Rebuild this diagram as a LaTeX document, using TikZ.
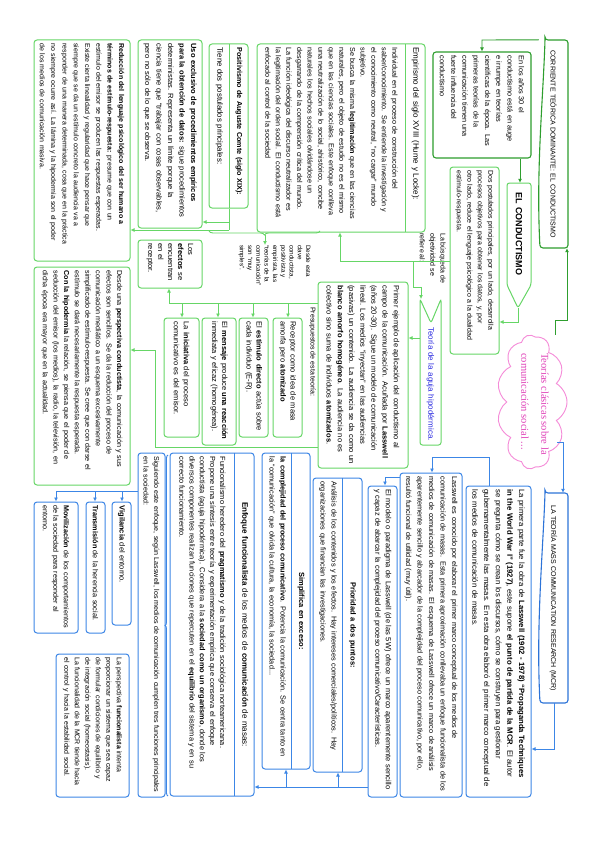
\documentclass[tikz,border=0pt]{standalone}
\usepackage{fontspec}
\setmainfont{Liberation Sans}
\newfontfamily\cloudfont{Liberation Serif}
\usetikzlibrary{arrows.meta,shapes.symbols,decorations.pathreplacing}
\definecolor{gl}{HTML}{66D666}
\definecolor{gd}{HTML}{2E9E2E}
\definecolor{bl}{HTML}{3C86E6}
\definecolor{bd}{HTML}{2D74D8}
\definecolor{pk}{HTML}{F58BD8}
\definecolor{mg}{HTML}{E040B8}
\definecolor{ag}{HTML}{2B2BE0}
\newcommand\fsz[2]{\fontsize{#1}{#2}\selectfont}
% name, style, x1, y1, x2, y2, text  (page pixel coordinates, y downwards)
\newcommand\mkbox[7]{%
  \pgfmathsetmacro\mbcx{(#3+#5)/2}%
  \pgfmathsetmacro\mbcy{(#4+#6)/2}%
  \pgfmathsetmacro\mbw{#6-#4}%
  \pgfmathsetmacro\mbh{#5-#3}%
  \pgfmathsetmacro\mbt{#6-#4-7}%
  \node[#2, minimum width=\mbw pt, minimum height=\mbh pt, text width=\mbt pt] (#1) at (\mbcx,\mbcy) {#7};}
\tikzset{
  base/.style={rotate=-90, inner xsep=3pt, inner ysep=2pt, align=left, font=\fsz{7.5}{11}},
  gbox/.style={base, draw=gl, line width=1pt, rounded corners=3pt},
  dbox/.style={base, draw=gd, line width=1.1pt, rounded corners=3pt},
  bbox/.style={base, draw=bl, line width=1pt, rounded corners=3pt},
  plain/.style={base, draw=none},
  hdr/.style={base, draw=none, align=center},
  lbl/.style={rotate=-90, inner sep=0pt, align=left, font=\fsz{7}{10.4}},
  garr/.style={draw=gl, line width=0.9pt, -{Latex[length=4pt,width=4pt]}},
  gline/.style={draw=gl, line width=0.9pt},
  darr/.style={draw=gd, line width=0.9pt, -{Latex[length=4pt,width=4pt]}},
  barr/.style={draw=bl, line width=0.9pt, -{Latex[length=4pt,width=4pt]}},
  bline/.style={draw=bl, line width=0.9pt},
}
\begin{document}
\begin{tikzpicture}[x=1pt,y=-1pt]
\fill[white] (0,0) rectangle (599,848);
\useasboundingbox (0,0) rectangle (599,848);

%================ GREEN PART =================
\mkbox{ban1}{hdr, font=\fsz{7}{8}}{539}{40}{568}{248}{CORRIENTE TEÓRICA DOMINANTE: EL CONDUCTISMO}
\draw[gd, line width=1.1pt, rounded corners=3pt] (545,40) -- (568,40) -- (568,248) -- (540,248) .. controls (536,170) and (543,100) .. (545,40) -- cycle;

\mkbox{a30}{dbox, font=\fsz{7.3}{11.3}}{433}{52}{531}{158}{En los años 30 el\\conductismo está en auge\\e irrumpe en teorías\\científicas de la época. Las\\primeras teorías de la\\comunicación tienen una\\fuerte influencia del\\conductismo}

\mkbox{cond}{hdr, font=\bfseries\fsz{9}{10}}{507}{183}{531}{285}{EL CONDUCTISMO}
\draw[gl, line width=1pt, rounded corners=2.5pt] (518,308) -- (507,285) -- (507,183) -- (531,183) -- (531,285) -- cycle;
\coordinate (condtip) at (518,308);

\mkbox{dos}{gbox, font=\fsz{7}{10.5}}{450}{167}{499}{354}{Dos postulados principales, por un lado, desarrolla\\procesos objetivos para obtener los datos, y, por\\otro lado, reduce el lenguaje psicológico a la dualidad\\estímulo-respuesta.}

\mkbox{empi}{gbox}{257}{44}{425}{232}{}
\mkbox{empih}{plain, font=\fsz{8}{9}}{406}{44}{425}{232}{Empirismo del siglo XVIII (Hume y Locke):}
\draw[gl, line width=1pt] (empih.south west) -- (empih.south east);
\mkbox{empic}{plain, font=\fsz{7.2}{10.6}}{257}{44}{406}{232}{Individual en el proceso de construcción del\\saber/conocimiento. Se entiende la investigación y\\el conocimiento como neutral, “no cargar” mundo\\subjetivo.\\Se busca la misma \textbf{legitimación} que en las ciencias\\naturales, pero el objeto de estudio no es el mismo\\que en las ciencias sociales. Este enfoque conlleva\\una neutralización de lo social, ahistórico, concibe\\naturales los hechos sociales olvidándose un\\desgarrando de la comprensión crítica del mundo.\\La función ideológica del discurso neutralizador es\\la legitimación del orden social. El conductismo está\\enfocado al control de la sociedad}

\mkbox{posi}{gbox}{209}{44}{248}{208}{}
\mkbox{posih}{plain, font=\bfseries\fsz{7.2}{9}}{230}{44}{248}{208}{Positivismo de Auguste Comte (siglo XIX):}
\draw[gl, line width=1pt] (posih.south west) -- (posih.south east);
\mkbox{posic}{plain, font=\fsz{7.8}{9}}{209}{44}{230}{208}{Tiene dos postulados principales:}

\mkbox{uso}{gbox, font=\fsz{7.5}{11.5}}{138}{40}{202}{228}{\textbf{Uso exclusivo de procedimientos empíricos}\\\textbf{para la obtención de datos:} sigue procedimientos\\deterministas. Representa un límite porque la\\ciencia tiene que “trabajar con cosas observables,\\pero no sólo de lo que se observa.}

\mkbox{red}{gbox, font=\fsz{7}{11.3}}{34}{40}{130}{261}{\textbf{Reducción del lenguaje psicológico del ser humano a}\\\textbf{términos de estímulo-respuesta:} presume que con un\\estímulo del emisor se producen las respuestas esperadas.\\Existe cierta linealidad y regularidad que hace pensar que\\siempre que se da un estímulo concreto la audiencia va a\\responder de una manera determinada, cosa que en la práctica\\no siempre ocurre así. La lámina y la hipodermia son el poder\\de los medios de comunicación masiva.}

\node[lbl, anchor=north west, font=\fsz{6.3}{8.3}] (desc) at (311,245) {Desde esta\\clave\\conductista,\\positivista y\\empirista, las\\“teorías de la\\comunicación”\\son “muy\\simples”.};
\draw[gl, line width=0.9pt, decorate, decoration={brace, amplitude=4pt}] (320,231) -- (209,231);
\coordinate (bracetip) at (265,235);
\draw[garr] (bracetip) -- (desc.west -| 265,0);

\mkbox{efec}{gbox, font=\fsz{7.5}{10}}{138}{240}{202}{288}{Los\\\textbf{efectos} se\\encuentran\\en el\\receptor.}

\mkbox{desde1}{gbox, font=\fsz{7.2}{10.6}}{34}{267}{130}{485}{Desde una \textbf{perspectiva conductista}, la comunicación y sus\\efectos son sencillos. Se da la reducción del proceso de\\comunicación mediático a un esquema excesivamente\\simplificado de estímulo-respuesta. Se cree que con darse el\\estímulo se dará necesariamente la respuesta esperada.\\\textbf{Con la hipodermia} la relación, se piensa que el poder de\\seducción del emisor (los medios), la radio, la televisión, en\\dicha época era mayor que en la actualidad.}

\mkbox{ba}{gbox, font=\fsz{7.5}{10}}{164}{318}{199}{437}{La \textbf{iniciativa} del proceso\\comunicativo es del emisor.}
\mkbox{bb}{gbox, font=\fsz{7.5}{10}}{202}{318}{236}{445}{El \textbf{mensaje} produce \textbf{una reacción}\\inmediata y eficaz (homogénea).}
\mkbox{bc}{gbox, font=\fsz{7.5}{10}}{239}{318}{268}{437}{El \textbf{estímulo directo} actúa sobre\\cada individuo (E-R).}
\mkbox{bd}{gbox, font=\fsz{7.5}{10}}{273}{318}{302}{437}{Receptor como idea de masa\\amorfa pero \textbf{atomizado}}

\node[lbl, anchor=north west] (presu) at (316,307) {Presupuestos de esta teoría:};

\mkbox{prim}{gbox, font=\fsz{7.5}{11.2}}{318}{282}{408}{468}{Primer ejemplo de aplicación del conductismo al\\campo de la comunicación. Acuñada por \textbf{Lasswell}\\(años 20-30). Sigue un modelo de comunicación\\lineal. Los medios “inyectan” en las audiencias\\(pasivas) un contenido. La audiencia se da como un\\\textbf{blanco amorfo homogéneo}. La audiencia no es\\colectivo sino suma de individuos \textbf{atomizados}.}

\mkbox{aguja}{hdr, text=ag, font=\fsz{8}{9}}{420}{323}{441}{445}{Teoría de la aguja hipodérmica.}
\draw[gl, line width=1pt, rounded corners=2.5pt] (420,445) -- (420,299) -- (431,323) -- (441,299) -- (441,445) -- cycle;
\coordinate (agtop) at (421,299);

\node[lbl, anchor=north west] (busq) at (446,233) {La búsqueda de\\objetividad se\\refiere al:};

% cloud
\node[cloud, cloud puffs=11, cloud puff arc=120, aspect=1.9, draw=pk, line width=0.9pt, rotate=-90, minimum width=134pt, minimum height=70pt, inner sep=0pt] (cloud) at (532,402) {};
\node[rotate=-90, text=mg, align=left, font=\cloudfont\fsz{10.5}{20}] (cloudt) at (535,404) {Teorías clásicas sobre la\\comunicación social ...};

% green connectors
\draw[darr] (ban1.south west) -- (482,40) -- (a30.west -| 482,0);
\draw[darr] (a30.east -| 520,0) -- (cond.west -| 520,0);
\draw[darr] (cloud.west -| 555,0) -- (555,320) -- (567,320) -- (ban1.east -| 567,0);
\draw[garr] (condtip) -- (518,322) -- (dos.north |- 0,322);
\draw[garr] (dos.south |- 0,261) -- (340,261) -- (empi.east -| 340,0);
\draw[garr] (413,261) -- (413,287) -- (421,287) -- (agtop);
\draw[garr] (aguja.south |- 0,338) -- (prim.north |- 0,338);
\draw[garr] (prim.south |- 0,303) -- (169,303) -- (efec.east -| 169,0);
\coordinate (j1) at (182,303); \coordinate (j2) at (218,303);
\coordinate (j3) at (253,303); \coordinate (j4) at (288,303);
\draw[garr] (j1) -- (ba.west -| j1);
\draw[garr] (j2) -- (bb.west -| j2);
\draw[garr] (j3) -- (bc.west -| j3);
\draw[garr] (j4) -- (bd.west -| j4);
\draw[garr] (prim.south |- 0,447) -- (155,447) -- (155,350) -- (desde1.north |- 0,350);
\draw[gline] (posi.east -| 229,0) -- (229,230);
\draw[garr] (229,230) -- (red.north |- 0,230);
\draw[garr] (229,222) -- (uso.north |- 0,222);

%================ BLUE PART =================
\mkbox{ban2}{hdr, font=\fsz{7}{8}}{539}{493}{568}{703}{LA TEORÍA MASS COMMUNICATION RESEARCH (MCR)}
\draw[bd, line width=1.1pt, rounded corners=3pt] (545,493) -- (568,493) -- (568,703) -- (540,703) .. controls (536,625) and (543,550) .. (545,493) -- cycle;

\mkbox{b17}{bbox, font=\fsz{7.7}{11.7}}{466}{486}{531}{797}{La primera parte fue la obra de \textbf{Lasswell (1902 - 1978) “Propaganda Techniques}\\\textbf{in the World War I” (1927)}, este supone \textbf{el punto de partida de la MCR}. El autor\\se pregunta cómo se crean los discursos, cómo se construyen para gestionar\\gubernamentalmente las masas. En esta obra elaboró el primer marco conceptual de\\los medios de comunicación de masas.}

\mkbox{b18}{bbox, font=\fsz{7.3}{11.5}}{400}{473}{462}{797}{Lasswell es conocido por elaborar el primer marco conceptual de los medios de\\comunicación de masas. Esta primera aproximación conllevaba un enfoque funcionalista de los\\medios de comunicación de masas. El esquema de Lasswell ofrece un marco de análisis\\aparentemente sencillo y abarcador de la complejidad del proceso comunicativo, por ello,\\resultó funcional de utilidad (muy útil).}

\mkbox{b19}{bbox, font=\fsz{7.5}{10.5}}{368}{486}{397}{797}{El modelo o paradigma de Lasswell (de las 5W) ofrece un marco aparentemente sencillo\\y capaz de abarcar la complejidad del proceso comunicativo/Características.}

\mkbox{b20}{bbox}{313}{478}{362}{772}{}
\mkbox{b20h}{hdr, font=\bfseries\fsz{7.5}{9}}{343}{478}{362}{772}{Prioridad a dos puntos:}
\draw[bl, line width=1pt] (b20h.south west) -- (b20h.south east);
\mkbox{b20c}{plain, font=\fsz{7.3}{11}}{313}{478}{343}{772}{Análisis de los contenidos y los efectos. Hay intereses comerciales/políticos. Hay\\organizaciones que financian las investigaciones.}

\mkbox{b21}{bbox}{262}{453}{310}{769}{}
\mkbox{b21h}{hdr, font=\bfseries\fsz{7.5}{9}}{292}{453}{310}{769}{Simplifica en exceso:}
\draw[bl, line width=1pt] (b21h.south west) -- (b21h.south east);
\mkbox{b21c}{plain, font=\fsz{7.3}{11}}{262}{453}{292}{769}{\textbf{la complejidad del proceso comunicativo}. Potencia la comunicación. Se centra tanto en\\la “comunicación” que olvida la cultura, la economía, la sociedad...}

\mkbox{b22}{bbox}{170}{453}{254}{796}{}
\mkbox{b22h}{hdr, font=\fsz{8}{9}}{235}{453}{254}{796}{\textbf{Enfoque funcionalista} de los medios de \textbf{comunicación} de masas:}
\draw[bl, line width=1pt] (b22h.south west) -- (b22h.south east);
\mkbox{b22c}{plain, font=\fsz{7.4}{10.2}}{170}{453}{235}{796}{Funcionalismo heredero del \textbf{pragmatismo} y de la tradición sociológica norteamericana.\\Propone una síntesis entre teoría y experimentación empírica que conserva el enfoque\\conductista (aguja hipodérmica). Considera a la \textbf{sociedad como un organismo}, donde los\\diversos componentes realizan funciones que repercuten en el \textbf{equilibrio} del sistema y en su\\correcto funcionamiento.}
\draw[bl, line width=0.9pt, decorate, decoration={brace, amplitude=3pt}] (168,796) -- (168,455);

\mkbox{b23}{bbox, font=\fsz{7.1}{10.5}}{138}{453}{165}{797}{Siguiendo este enfoque, según Lasswell, los medios de comunicación cumplen tres funciones principales\\en la sociedad:}

\mkbox{b24}{bbox, font=\fsz{7.5}{10}}{112}{502}{131}{625}{\textbf{Vigilancia} del entorno.}
\mkbox{b25}{bbox, font=\fsz{7.3}{10}}{86}{502}{105}{633}{\textbf{Transmisión} de la herencia social.}
\mkbox{b26}{bbox, font=\fsz{7.2}{10.5}}{34}{502}{78}{633}{\textbf{Movilización} de los comportamientos\\de la sociedad para responder al\\entorno.}

\mkbox{b27}{bbox, font=\fsz{7}{10.5}}{56}{654}{129}{797}{La perspectiva \textbf{funcionalista} intenta\\proporcionar un sistema que sea capaz\\de formular condiciones de equilibrio y\\de integración social (homeostasis).\\La funcionalidad de la MCR tiende hacia\\el control y hacia la estabilidad social.}

% blue connectors
\coordinate (cl1) at (557,442);
\draw[barr] (cl1) -- (563,442) -- (ban2.west -| 563,0);
\draw[barr] (ban2.east -| 554,0) -- (554,749) -- (b17.north |- 0,749);
\draw[barr] (b17.west -| 489,0) -- (489,457) -- (432,457) -- (b18.west -| 432,0);
\draw[barr] (b18.south |- 0,477) -- (385,477) -- (b19.west -| 385,0);
\draw[barr] (b19.south |- 0,787) -- (b22.north |- 0,787);
\coordinate (k1) at (338,787); \coordinate (k2) at (286,787);
\draw[barr] (k1) -- (b20.east -| k1);
\draw[barr] (k2) -- (b21.east -| k2);
\draw[bline] (b23.south |- 0,491) -- (56,491);
\coordinate (m1) at (122,491); \coordinate (m2) at (95,491); \coordinate (m3) at (56,491);
\draw[barr] (m1) -- (b24.west -| m1);
\draw[barr] (m2) -- (b25.west -| m2);
\draw[barr] (m3) -- (b26.west -| m3);
\end{tikzpicture}
\end{document}
